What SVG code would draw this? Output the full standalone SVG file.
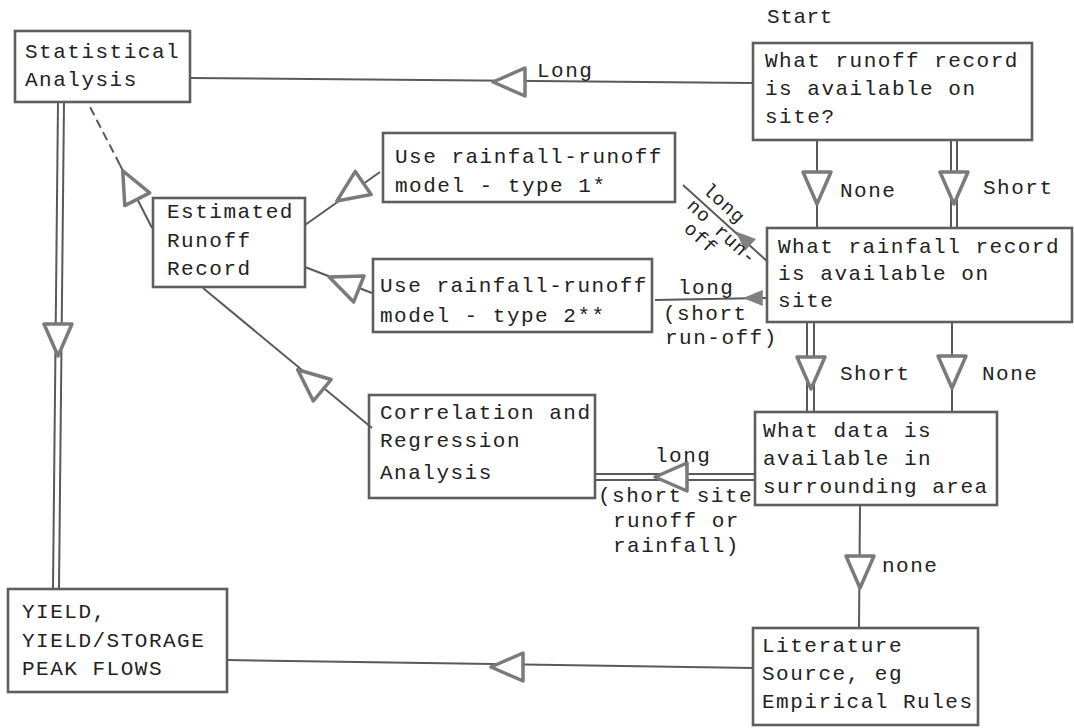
<svg xmlns="http://www.w3.org/2000/svg" xmlns:xlink="http://www.w3.org/1999/xlink" width="1074" height="728" viewBox="0 0 1074 728">
<style>
.box{fill:none;stroke:#5e5e5e;stroke-width:2.6}
.t{font-family:"Liberation Mono","Courier New",monospace;font-size:21px;letter-spacing:1.5px;fill:#222}
.lb{font-family:"Liberation Mono","Courier New",monospace;font-size:21px;letter-spacing:1.5px;fill:#222}
.sm{font-family:"Liberation Mono","Courier New",monospace;font-size:19px;letter-spacing:1px;fill:#222}
.ln{fill:none;stroke:#5a5a5a;stroke-width:2}
.tri{fill:#fff;stroke:#7a7a7a;stroke-width:3.5;stroke-linejoin:round}
.ftri{fill:#808080;stroke:#808080;stroke-width:1.5}
</style>
<defs>
<polygon id="arr" class="tri" points="16,0 -16,-14 -16,14"/>
<polygon id="farr" class="ftri" points="9,0 -8,-7 -8,7"/>
</defs>
<rect width="1074" height="728" fill="#fff"/>
<g id="connectors">
<line class="ln" x1="753" y1="83" x2="190" y2="78"/>
<line class="ln" x1="817" y1="140" x2="817" y2="228"/>
<line class="ln" x1="951" y1="140" x2="951" y2="228"/>
<line class="ln" x1="957" y1="140" x2="957" y2="228"/>
<line class="ln" x1="683" y1="185" x2="768" y2="262"/>
<line class="ln" x1="655" y1="300" x2="767" y2="298"/>
<line class="ln" x1="807" y1="322" x2="807" y2="412"/>
<line class="ln" x1="814" y1="322" x2="814" y2="412"/>
<line class="ln" x1="952" y1="322" x2="952" y2="412"/>
<line class="ln" x1="595" y1="474" x2="755" y2="474"/>
<line class="ln" x1="595" y1="480" x2="755" y2="480"/>
<line class="ln" x1="860" y1="505" x2="859" y2="628"/>
<line class="ln" x1="753" y1="668" x2="227" y2="660"/>
<line class="ln" x1="58" y1="102" x2="53" y2="589"/>
<line class="ln" x1="64" y1="102" x2="59" y2="589"/>
<line class="ln" x1="152" y1="228" x2="120" y2="165"/>
<line class="ln" x1="120" y1="165" x2="88" y2="103" stroke-dasharray="9,5"/>
<line class="ln" x1="380" y1="172" x2="305" y2="225"/>
<line class="ln" x1="372" y1="293" x2="305" y2="267"/>
<line class="ln" x1="372" y1="428" x2="203" y2="288"/>
<use xlink:href="#arr" transform="translate(509,82) rotate(180)"/>
<use xlink:href="#arr" transform="translate(817,188) rotate(90)"/>
<use xlink:href="#arr" transform="translate(954,188) rotate(90)"/>
<use xlink:href="#arr" transform="translate(811,373) rotate(90)"/>
<use xlink:href="#arr" transform="translate(952,372) rotate(90)"/>
<use xlink:href="#arr" transform="translate(860,572) rotate(90)"/>
<use xlink:href="#arr" transform="translate(671,477) rotate(180)"/>
<use xlink:href="#arr" transform="translate(507,667) rotate(180)"/>
<use xlink:href="#arr" transform="translate(58,340) rotate(90)"/>
<use xlink:href="#arr" transform="translate(130,185) rotate(243)"/>
<use xlink:href="#arr" transform="translate(350,192) rotate(145.5)"/>
<use xlink:href="#arr" transform="translate(344,283) rotate(201.8)"/>
<use xlink:href="#arr" transform="translate(310,380) rotate(219.8)"/>
<use xlink:href="#farr" transform="translate(744,239) rotate(222.5)"/>
<use xlink:href="#farr" transform="translate(754,298) rotate(180)"/>
<text class="lb" x="537" y="77">Long</text>
<text class="lb" x="840" y="197">None</text>
<text class="lb" x="983" y="194">Short</text>
<text class="lb" x="840" y="380">Short</text>
<text class="lb" x="982" y="380">None</text>
<text class="lb" x="882" y="572">none</text>
<text class="lb" x="655" y="462">long</text>
<text class="lb" x="598" y="502">(short site</text>
<text class="lb" x="613" y="527">runoff or</text>
<text class="lb" x="613" y="552">rainfall)</text>
<text class="lb" x="678" y="294">long</text>
<text class="lb" x="663" y="320">(short</text>
<text class="lb" x="665" y="344">run-off)</text>
<text class="sm" x="720" y="208" text-anchor="middle" transform="rotate(42.5 720 208)">long</text>
<text class="sm" x="686" y="207" transform="rotate(42.5 686 207)">no run-</text>
<text class="sm" x="683" y="230" transform="rotate(42.5 683 230)">off</text>
</g>
<g id="start"><text class="t" x="767" y="23" style="letter-spacing:0.6px">Start</text></g>
<g id="statistical">
<rect class="box" x="15" y="31" width="175" height="71"/>
<text class="t" x="25" y="58">Statistical</text>
<text class="t" x="25" y="86">Analysis</text>
</g>
<g id="runoff-record">
<rect class="box" x="753" y="43" width="279" height="97"/>
<text class="t" x="765" y="67">What runoff record</text>
<text class="t" x="765" y="95">is available on</text>
<text class="t" x="765" y="123">site?</text>
</g>
<g id="rainfall-record">
<rect class="box" x="767" y="228" width="305" height="94"/>
<text class="t" x="778" y="253">What rainfall record</text>
<text class="t" x="778" y="280">is available on</text>
<text class="t" x="778" y="307">site</text>
</g>
<g id="surrounding">
<rect class="box" x="755" y="412" width="242" height="93"/>
<text class="t" x="763" y="437">What data is</text>
<text class="t" x="763" y="465">available in</text>
<text class="t" x="763" y="493">surrounding area</text>
</g>
<g id="literature">
<rect class="box" x="753" y="628" width="225" height="97"/>
<text class="t" x="762" y="652">Literature</text>
<text class="t" x="762" y="680">Source, eg</text>
<text class="t" x="762" y="708">Empirical Rules</text>
</g>
<g id="yield">
<rect class="box" x="8" y="589" width="219" height="103"/>
<text class="t" x="22" y="618">YIELD,</text>
<text class="t" x="22" y="647">YIELD/STORAGE</text>
<text class="t" x="22" y="675">PEAK FLOWS</text>
</g>
<g id="estimated">
<rect class="box" x="153" y="198" width="152" height="89"/>
<text class="t" x="167" y="218">Estimated</text>
<text class="t" x="167" y="247">Runoff</text>
<text class="t" x="167" y="275">Record</text>
</g>
<g id="model1">
<rect class="box" x="383" y="133" width="292" height="69"/>
<text class="t" x="395" y="163">Use rainfall-runoff</text>
<text class="t" x="395" y="192">model - type 1*</text>
</g>
<g id="model2">
<rect class="box" x="373" y="259" width="279" height="73"/>
<text class="t" x="380" y="292">Use rainfall-runoff</text>
<text class="t" x="380" y="322">model - type 2**</text>
</g>
<g id="correlation">
<rect class="box" x="369" y="395" width="226" height="103"/>
<text class="t" x="380" y="419">Correlation and</text>
<text class="t" x="380" y="447">Regression</text>
<text class="t" x="380" y="479">Analysis</text>
</g>
</svg>
